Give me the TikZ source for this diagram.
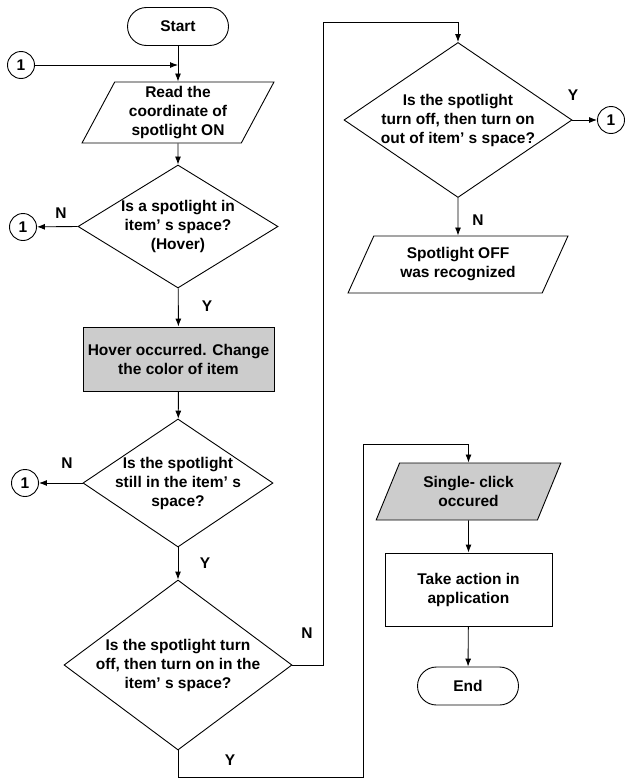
\documentclass[tikz,border=0pt]{standalone}
\usepackage{fontspec}
\setmainfont{Liberation Sans}
\usetikzlibrary{shapes.geometric, arrows.meta}
\newcommand{\qtext}[1]{\smash{\raisebox{-0.25em}{\begin{tabular}{@{}c@{}}#1\end{tabular}}}}

\begin{document}
\begin{tikzpicture}[>={Latex[length=8pt,width=6pt]}, x=1pt, y=-1pt, line width=0.9pt,
    every node/.style={font=\fontsize{15.5}{19}\selectfont\bfseries},
    term/.style={draw, rectangle, rounded corners=19pt, minimum width=101pt, minimum height=38pt, inner sep=2pt},
    proc/.style={draw, rectangle, inner sep=2pt, align=center},
    io/.style={draw, trapezium, trapezium stretches=true, trapezium left angle=65, trapezium right angle=115, inner sep=2pt, align=center},
    ask/.style={draw, diamond, aspect=1.5, inner sep=0pt},
    conn/.style={draw, circle, minimum size=27pt, inner sep=0pt},
    yn/.style={inner sep=0pt}]
    \useasboundingbox (0,0) rectangle (626,779);

    % 1. Cột trái
    \node[term] (start) at (178,26.5) {Start};
    \node[conn] (c0) at (21,65) {1};
    \node[io, minimum width=192pt, minimum height=61pt] (read) at (178,112.5) {Read the\\coordinate of\\spotlight ON};
    \node[ask, minimum width=200pt, minimum height=123pt] (q1) at (178,226.5) {\qtext{Is a spotlight in\\item’ s space?\\(Hover)}};
    \node[conn] (c1) at (23,227) {1};
    \node[proc, fill=gray!40, minimum width=191pt, minimum height=64pt] (hover) at (178.5,359) {Hover occurred. Change\\the color of item};
    \node[ask, minimum width=190pt, minimum height=128pt] (q2) at (178,483) {\qtext{Is the spotlight\\still in the item’ s\\space?}};
    \node[conn] (c2) at (25,483) {1};
    \node[ask, minimum width=228pt, minimum height=170pt] (q3) at (178,665) {\qtext{Is the spotlight turn\\off, then turn on in the\\item’ s space?}};

    % 2. Cột phải
    \node[ask, minimum width=228pt, minimum height=155pt] (q4) at (458,120) {\qtext{Is the spotlight\\turn off, then turn on\\out of item’ s space?}};
    \node[conn] (c3) at (611,120) {1};
    \node[io, trapezium left angle=64, trapezium right angle=116, minimum width=220pt, minimum height=57pt] (off) at (458,264.5) {Spotlight OFF\\was recognized};
    \node[io, fill=gray!40, minimum width=185pt, minimum height=57pt] (click) at (468.5,491.5) {Single- click\\occured};
    \node[proc, minimum width=167pt, minimum height=73pt] (act) at (468.5,589.5) {Take action in\\application};
    \node[term] (end) at (468,686) {End};

    % 3. Nhãn Y / N
    \node[yn] (n1) at (61,213) {N};
    \node[yn] (y1) at (207,306) {Y};
    \node[yn] (n2) at (67,463) {N};
    \node[yn] (y2) at (205,563) {Y};
    \node[yn] (n3) at (307,633) {N};
    \node[yn] (y3) at (230,760) {Y};
    \node[yn] (y4) at (573,95) {Y};
    \node[yn] (n4) at (478,220) {N};

    % 4. Các đường nối
    \coordinate (jN) at (323,22);
    \coordinate (jB) at (363,777);
    \coordinate (jT) at (363,444);
    \draw[->] (start) -- (read);
    \draw[->] (c0) -- (c0 -| read);
    \draw[->] (read) -- (q1);
    \draw[->] (q1.west) -- (c1);
    \draw[->] (q1) -- (hover);
    \draw[->] (hover) -- (q2);
    \draw[->] (q2.west) -- (c2);
    \draw[->] (q2) -- (q3);
    \draw[->] (q3.east) -| (jN) -| (q4.north);
    \draw[->] (q3.south) |- (jB) -- (jT) -| (click.north);
    \draw[->] (q4.east) -- (c3);
    \draw[->] (q4) -- (off);
    \draw[->] (click) -- (act);
    \draw[->] (act) -- (end);
\end{tikzpicture}
\end{document}
